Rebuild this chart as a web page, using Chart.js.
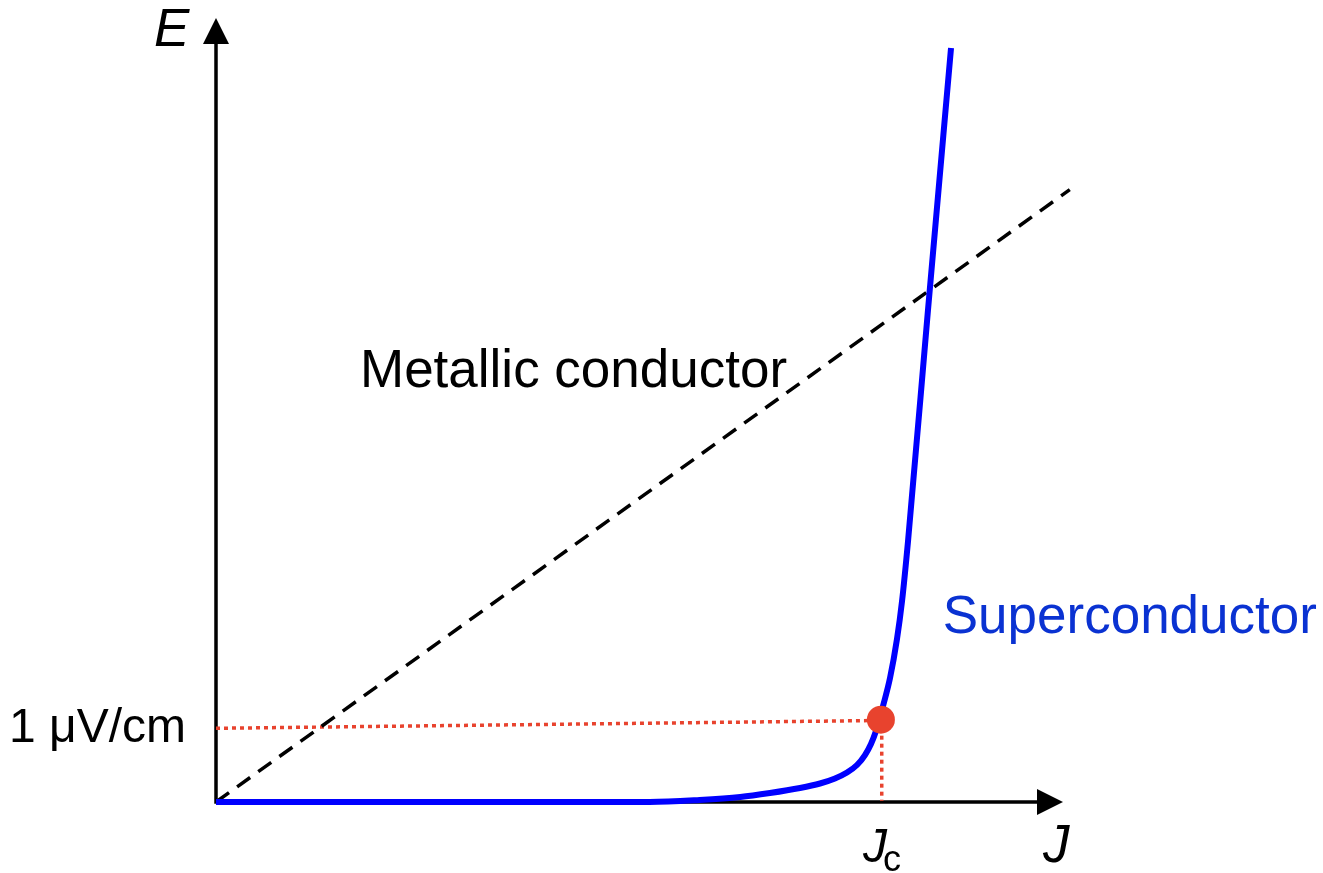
<!DOCTYPE html>
<html>
<head>
<meta charset="utf-8">
<title>E–J characteristic</title>
<script src="https://cdn.jsdelivr.net/npm/chart.js@4.4.1/dist/chart.umd.min.js"></script>
<style>
  html, body { margin: 0; padding: 0; background: #ffffff; }
  #wrap { width: 1323px; height: 873px; }
</style>
</head>
<body>
<div id="wrap"><canvas id="ej" width="1323" height="873"></canvas></div>
<script>
// Current density J (normalised, 0–100) and electric field E (normalised, 0–100)
const superJ = [0, 21.7, 45.3, 51.2, 57.1, 61.9, 65.4, 68.95, 71.31, 73.08, 74.5, 75.68, 76.62, 77.33, 77.92, 78.34, 78.75, 79.58, 80.4, 80.99, 81.7, 84.06, 86.78];
const superE = [0, 0, 0, 0, 0.26, 0.64, 1.15, 1.79, 2.36, 3.0, 3.76, 4.72, 5.99, 7.4, 9.06, 10.59, 12.24, 15.82, 20.79, 25.57, 33.23, 62.76, 96.17];

// Ohmic conductor: straight line through the origin
const metalJ = [0, 100.8];
const metalE = [0, 78.1];

// Critical current criterion (1 µV/cm)
const critJ = 78.5;
const critE = 10.5;
const criterionJ = [0, 78.5];
const criterionE = [9.4, 10.4];

// Axis labels and annotations
const axisLabelE = 'E';
const axisLabelJ = 'J';
const criterionLabel = '1 μV/cm';
const metalLabel = 'Metallic conductor';
const superLabel = 'Superconductor';
const metalLabelAt = [17.0, 52.9];
const superLabelAt = [85.8, 21.6];

const pts = (xs, ys) => xs.map((x, i) => ({ x: x, y: ys[i] }));

const RED = '#E8432E';
const FONT = '"Liberation Sans", Arial, Helvetica, sans-serif';

const arrowAxes = {
  id: 'arrowAxes',
  beforeDatasetsDraw(chart) {
    const { ctx } = chart;
    const xs = chart.scales.x, ys = chart.scales.y;
    const ox = xs.getPixelForValue(0), oy = ys.getPixelForValue(0);
    const xEnd = xs.getPixelForValue(100), yEnd = ys.getPixelForValue(100);
    const head = 26, half = 13;
    ctx.save();
    ctx.strokeStyle = '#000';
    ctx.fillStyle = '#000';
    ctx.lineWidth = 3.5;
    ctx.lineCap = 'butt';
    ctx.beginPath();
    ctx.moveTo(ox, oy + 1.75);
    ctx.lineTo(ox, yEnd + head - 2);
    ctx.moveTo(ox - 1.75, oy);
    ctx.lineTo(xEnd - head + 2, oy);
    ctx.stroke();
    // arrow heads
    ctx.beginPath();
    ctx.moveTo(ox, yEnd);
    ctx.lineTo(ox - half, yEnd + head);
    ctx.lineTo(ox + half, yEnd + head);
    ctx.closePath();
    ctx.fill();
    ctx.beginPath();
    ctx.moveTo(xEnd, oy);
    ctx.lineTo(xEnd - head, oy - half);
    ctx.lineTo(xEnd - head, oy + half);
    ctx.closePath();
    ctx.fill();
    ctx.restore();
  },
  afterDraw(chart) {
    const { ctx } = chart;
    const xs = chart.scales.x, ys = chart.scales.y;
    const ox = xs.getPixelForValue(0), oy = ys.getPixelForValue(0);
    const xEnd = xs.getPixelForValue(100), yEnd = ys.getPixelForValue(100);
    ctx.save();
    ctx.textBaseline = 'alphabetic';
    ctx.fillStyle = '#000';

    ctx.font = 'italic 53px ' + FONT;
    ctx.textAlign = 'left';
    ctx.fillText(axisLabelE, ox - 62, yEnd + 28);
    ctx.fillText(axisLabelJ, xEnd - 20, oy + 60);

    ctx.font = '48px ' + FONT;
    ctx.textAlign = 'right';
    ctx.fillText(criterionLabel, ox - 30, ys.getPixelForValue(criterionE[0]) + 14);

    const jcx = xs.getPixelForValue(critJ);
    ctx.textAlign = 'left';
    ctx.font = 'italic 48px ' + FONT;
    ctx.fillText('J', jcx - 18, oy + 60);
    ctx.font = '36px ' + FONT;
    ctx.fillText('c', jcx + 2, oy + 69);

    ctx.font = '53px ' + FONT;
    ctx.fillText(metalLabel, xs.getPixelForValue(metalLabelAt[0]), ys.getPixelForValue(metalLabelAt[1]));
    ctx.fillStyle = '#0A32D2';
    ctx.fillText(superLabel, xs.getPixelForValue(superLabelAt[0]), ys.getPixelForValue(superLabelAt[1]));
    ctx.restore();
  }
};

new Chart(document.getElementById('ej'), {
  type: 'scatter',
  data: {
    datasets: [
      {
        label: 'criterion',
        data: pts(criterionJ, criterionE),
        showLine: true,
        borderColor: RED,
        borderWidth: 3.5,
        borderDash: [4, 4],
        pointRadius: 0,
        clip: false,
        order: 3
      },
      {
        label: 'criterion-drop',
        data: [{ x: critJ + 0.1, y: critE }, { x: critJ + 0.1, y: 0.15 }],
        showLine: true,
        borderColor: RED,
        borderWidth: 3.5,
        borderDash: [4, 4],
        pointRadius: 0,
        clip: false,
        order: 3
      },
      {
        label: metalLabel,
        data: pts(metalJ, metalE),
        showLine: true,
        borderColor: '#000',
        borderWidth: 3.5,
        borderDash: [16, 10],
        pointRadius: 0,
        clip: false,
        order: 2
      },
      {
        label: superLabel,
        data: pts(superJ, superE),
        showLine: true,
        borderColor: '#0000FF',
        borderWidth: 6,
        cubicInterpolationMode: 'monotone',
        pointRadius: 0,
        clip: false,
        order: 1
      },
      {
        label: 'Jc',
        data: [{ x: critJ, y: critE }],
        pointRadius: 14,
        pointBackgroundColor: RED,
        pointBorderWidth: 0,
        borderColor: RED,
        clip: false,
        order: 0
      }
    ]
  },
  options: {
    responsive: false,
    devicePixelRatio: 1,
    animation: false,
    events: [],
    layout: { padding: { left: 216, right: 260, top: 18, bottom: 71 } },
    plugins: { legend: { display: false }, tooltip: { enabled: false } },
    scales: {
      x: { type: 'linear', min: 0, max: 100, display: false },
      y: { type: 'linear', min: 0, max: 100, display: false }
    }
  },
  plugins: [arrowAxes]
});
</script>
</body>
</html>
